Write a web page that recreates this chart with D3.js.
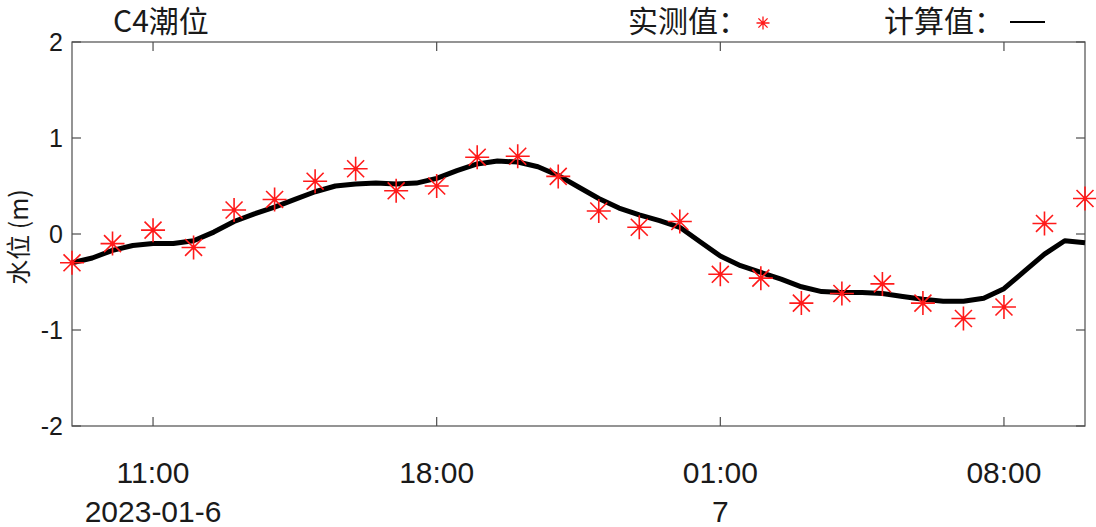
<!DOCTYPE html>
<html>
<head>
<meta charset="utf-8">
<script src="https://cdn.jsdelivr.net/npm/d3@7"></script>
<style>
body { margin: 0; background: #fff; }
svg text { font-family: "Liberation Sans", Arial, "Noto Sans CJK SC", sans-serif; fill: #1a1a1a; }
.cjk { font-family: "Noto Sans CJK SC", "Liberation Sans", sans-serif; }
</style>
</head>
<body>
<div id="chart"></div>
<script>
"use strict";
var w = 1096;
var h = 527;

// observed tide, hourly from 2023-01-06 09:00
var obsStart = Date.UTC(2023, 0, 6, 9);
var obsValues = [-0.30, -0.10, 0.04, -0.14, 0.25, 0.36, 0.55, 0.68, 0.45, 0.50,
                 0.80, 0.81, 0.60, 0.24, 0.07, 0.13, -0.42, -0.46, -0.72, -0.62,
                 -0.52, -0.72, -0.88, -0.76, 0.11, 0.37];
// computed tide, half-hourly from 2023-01-06 09:00
var calcValues = [-0.30, -0.25, -0.17, -0.12, -0.10, -0.10, -0.07, 0.02, 0.13, 0.21,
                  0.28, 0.36, 0.44, 0.50, 0.52, 0.53, 0.52, 0.53, 0.58, 0.66,
                  0.73, 0.76, 0.75, 0.70, 0.61, 0.49, 0.37, 0.27, 0.20, 0.14,
                  0.07, -0.08, -0.23, -0.33, -0.40, -0.47, -0.55, -0.60, -0.61, -0.61,
                  -0.62, -0.65, -0.68, -0.70, -0.70, -0.67, -0.57, -0.39, -0.21, -0.07,
                  -0.09];
var yTicks = [-2, -1, 0, 1, 2];
var xTickHours = [Date.UTC(2023, 0, 6, 11), Date.UTC(2023, 0, 6, 18),
                  Date.UTC(2023, 0, 7, 1), Date.UTC(2023, 0, 7, 8)];
var xTickLabels = ["11:00", "18:00", "01:00", "08:00"];
var xTickDates = ["2023-01-6", "", "7", ""];

var HOUR = 3600 * 1000;
var obs = obsValues.map(function(v, i){ return {t: new Date(obsStart + i * HOUR), v: v}; });
var calc = calcValues.map(function(v, i){ return {t: new Date(obsStart + i * HOUR / 2), v: v}; });

var margin = {left: 72, right: 11, top: 42, bottom: 101};

var x = d3.scaleUtc()
    .domain([new Date(obsStart), new Date(obsStart + 25 * HOUR)])
    .range([margin.left, w - margin.right]);
var y = d3.scaleLinear()
    .domain([-2, 2])
    .range([h - margin.bottom, margin.top]);

var svg = d3.select("#chart").append("svg")
    .attr("width", w)
    .attr("height", h);

var axisColor = "#4d4d4d";
var tickLen = 9;

// frame
svg.append("rect")
    .attr("x", x.range()[0]).attr("y", y.range()[1])
    .attr("width", x.range()[1] - x.range()[0])
    .attr("height", y.range()[0] - y.range()[1])
    .attr("fill", "none").attr("stroke", axisColor).attr("stroke-width", 1.2);

// ticks, inward on all four sides
var g = svg.append("g").attr("stroke", axisColor).attr("stroke-width", 1.2);
xTickHours.forEach(function(t){
    var px = x(new Date(t));
    g.append("line").attr("x1", px).attr("x2", px)
        .attr("y1", y(-2)).attr("y2", y(-2) - tickLen);
    g.append("line").attr("x1", px).attr("x2", px)
        .attr("y1", y(2)).attr("y2", y(2) + tickLen);
});
yTicks.forEach(function(v){
    g.append("line").attr("x1", x.range()[0]).attr("x2", x.range()[0] + tickLen)
        .attr("y1", y(v)).attr("y2", y(v));
    g.append("line").attr("x1", x.range()[1]).attr("x2", x.range()[1] - tickLen)
        .attr("y1", y(v)).attr("y2", y(v));
});

// tick labels
svg.selectAll(".ylab").data(yTicks).enter().append("text")
    .attr("x", x.range()[0] - 9)
    .attr("y", function(d){ return y(d); })
    .attr("dy", "0.35em")
    .attr("text-anchor", "end")
    .attr("font-size", 25)
    .text(function(d){ return d; });

xTickHours.forEach(function(t, i){
    var px = x(new Date(t));
    svg.append("text").attr("x", px).attr("y", 483)
        .attr("text-anchor", "middle").attr("font-size", 30)
        .text(xTickLabels[i]);
    if (xTickDates[i]) {
        svg.append("text").attr("x", px).attr("y", 522)
            .attr("text-anchor", "middle").attr("font-size", 30)
            .text(xTickDates[i]);
    }
});

// y label
svg.append("text")
    .attr("class", "cjk")
    .attr("transform", "translate(28,237) rotate(-90)")
    .attr("text-anchor", "middle")
    .attr("font-size", 25)
    .text("水位 (m)");

// computed line
var line = d3.line()
    .x(function(d){ return x(d.t); })
    .y(function(d){ return y(d.v); });
svg.append("path")
    .datum(calc)
    .attr("d", line)
    .attr("fill", "none")
    .attr("stroke", "#000")
    .attr("stroke-width", 5)
    .attr("stroke-linejoin", "round");

// star marker (matlab '*')
function starPath(r){
    var d = r * Math.SQRT1_2;
    return "M" + (-r) + ",0L" + r + ",0" +
           "M0," + (-r) + "L0," + r +
           "M" + (-d) + "," + (-d) + "L" + d + "," + d +
           "M" + (-d) + "," + d + "L" + d + "," + (-d);
}
svg.selectAll(".obs").data(obs).enter().append("path")
    .attr("class", "obs")
    .attr("transform", function(d){ return "translate(" + x(d.t) + "," + y(d.v) + ")"; })
    .attr("d", starPath(12))
    .attr("fill", "none")
    .attr("stroke", "#ff1a1a")
    .attr("stroke-width", 1.6);
svg.selectAll(".obsdot").data(obs).enter().append("circle")
    .attr("cx", function(d){ return x(d.t); })
    .attr("cy", function(d){ return y(d.v); })
    .attr("r", 2)
    .attr("fill", "#ff1a1a");

// title and legend text
svg.append("text").attr("class", "cjk")
    .attr("x", 113).attr("y", 32).attr("font-size", 30)
    .text("C4潮位");
svg.append("text").attr("class", "cjk")
    .attr("x", 628).attr("y", 32).attr("font-size", 30)
    .text("实测值：");
svg.append("path")
    .attr("transform", "translate(763,23)")
    .attr("d", starPath(6.5))
    .attr("stroke", "#ff1a1a").attr("stroke-width", 1.3).attr("fill", "none");
svg.append("text").attr("class", "cjk")
    .attr("x", 884).attr("y", 32).attr("font-size", 30)
    .text("计算值：");
svg.append("line")
    .attr("x1", 1010).attr("x2", 1045).attr("y1", 22).attr("y2", 22)
    .attr("stroke", "#000").attr("stroke-width", 2);
</script>
</body>
</html>
